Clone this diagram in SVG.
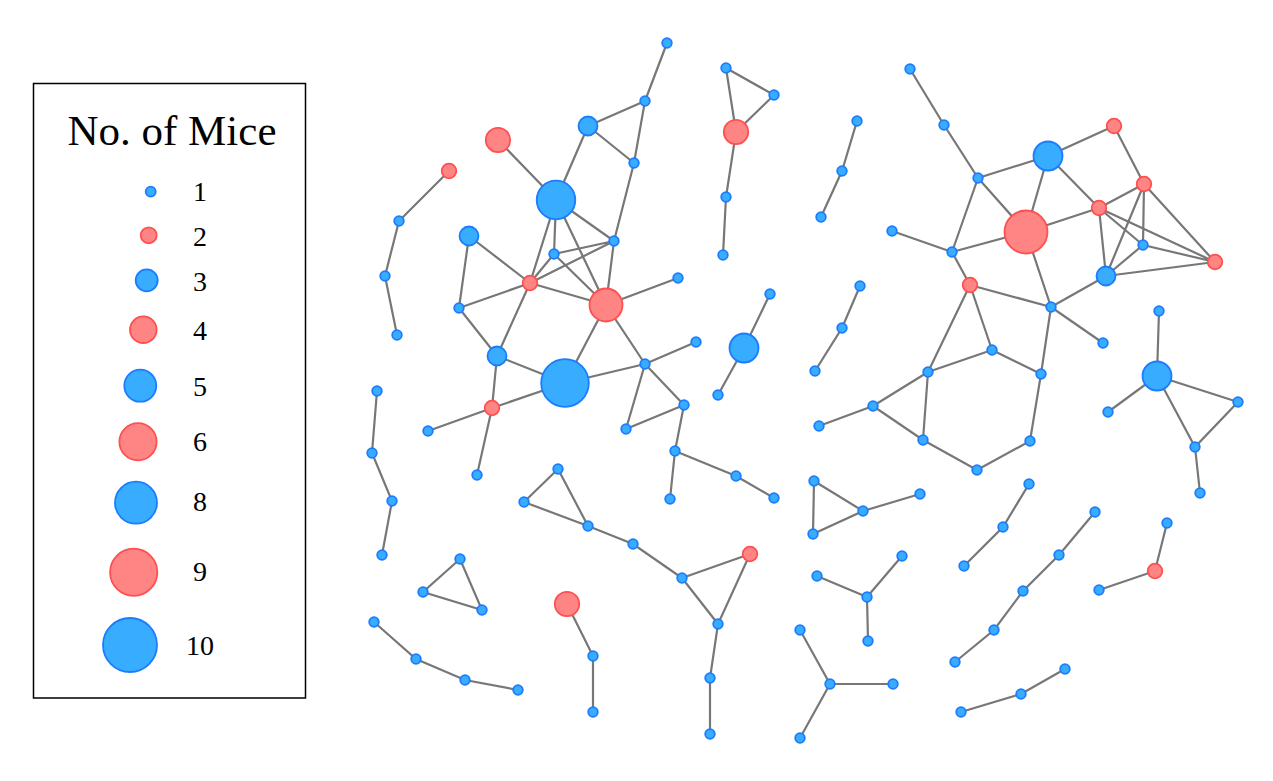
<svg xmlns="http://www.w3.org/2000/svg" width="1273" height="781" viewBox="0 0 1273 781">
<style>
.e{stroke:#777;stroke-width:2.2;fill:none}
.b{fill:#38acff;stroke:#1a7dff;stroke-width:1.8}
.r{fill:#ff8585;stroke:#ff4f4f;stroke-width:1.8}
.t{font-family:"Liberation Serif","Times New Roman",serif;fill:#000}
.lab{font-size:28px;text-anchor:middle}
</style>
<rect width="1273" height="781" fill="#fff"/>
<g id="legend">
<rect x="33.5" y="83.5" width="272" height="614.5" fill="#fff" stroke="#000" stroke-width="1.5"/>
<text class="t" x="172" y="145" font-size="43" text-anchor="middle">No. of Mice</text>
<circle class="b" cx="150.7" cy="191.7" r="5"/><text class="t lab" x="200" y="200.7">1</text>
<circle class="r" cx="148.7" cy="235.3" r="8"/><text class="t lab" x="200" y="245.7">2</text>
<circle class="b" cx="146.7" cy="280.3" r="11"/><text class="t lab" x="200" y="290.7">3</text>
<circle class="r" cx="143.3" cy="329.7" r="13.3"/><text class="t lab" x="200" y="340">4</text>
<circle class="b" cx="140.3" cy="385.7" r="16"/><text class="t lab" x="200" y="395.5">5</text>
<circle class="r" cx="138" cy="441.7" r="18.6"/><text class="t lab" x="200" y="450.7">6</text>
<circle class="b" cx="136" cy="502.7" r="21"/><text class="t lab" x="200" y="511">8</text>
<circle class="r" cx="133.7" cy="572.3" r="23.6"/><text class="t lab" x="200" y="581">9</text>
<circle class="b" cx="130" cy="645" r="27"/><text class="t lab" x="200" y="655">10</text>
</g>
<g id="edges" class="e">
<path d="M667,43L645,101M645,101L588,126M645,101L634,163M588,126L634,163M588,126L556,200M634,163L614,241M498,140L556,200M556,200L614,241M556,200L554,254M556,200L530,283M556,200L606,305M614,241L554,254M614,241L530,283M614,241L606,305M554,254L530,283M554,254L606,305M469,236L530,283M469,236L459,308M530,283L459,308M530,283L606,305M530,283L497,356M459,308L497,356M606,305L678,278M606,305L565,383M606,305L645,364M497,356L565,383M497,356L492,408M492,408L565,383M492,408L428,431M492,408L477,475M645,364L565,383M645,364L696,342M645,364L684,405M645,364L626,429M626,429L684,405M684,405L675,451M675,451L736,476M736,476L774,498M675,451L670,499"/>
<path d="M449,171L399,221L385,276L397,335M377,391L372,453L392,501L382,555"/>
<path d="M726,68L774,95M726,68L736,132M774,95L736,132M736,132L726,197L723,255"/>
<path d="M857,121L842,171L821,217M770,294L744,348L718,395M860,286L842,328L815,371"/>
<path d="M910,69L944,125L978,178M978,178L1048,156M978,178L1026,232M978,178L952,252M1048,156L1114,126M1048,156L1026,232M1048,156L1099,208M1114,126L1144,184M1144,184L1099,208M1144,184L1143,245M1144,184L1215,262M1144,184L1106,276M1099,208L1026,232M1099,208L1106,276M1099,208L1143,245M1099,208L1215,262M1143,245L1106,276M1143,245L1215,262M1106,276L1215,262M892,231L952,252M952,252L1026,232M952,252L970,285M1026,232L1051,307M1106,276L1051,307M970,285L1051,307M970,285L992,350M970,285L928,372M1051,307L1103,343M1051,307L1041,374M992,350L1041,374M992,350L928,372M1041,374L1030,441L977,470L923,440M928,372L873,406M928,372L923,440M873,406L819,426M873,406L923,440"/>
<path d="M1159,311L1157,376M1157,376L1108,412M1157,376L1238,402M1157,376L1195,447M1238,402L1195,447L1200,493"/>
<path d="M558,469L524,502M558,469L588,526M524,502L588,526L633,544L682,578M682,578L750,554M682,578L718,624M750,554L718,624L710,678L710,734"/>
<path d="M460,559L423,592L482,610Z"/>
<path d="M567,604L593,656L593,712M374,622L416,659L465,680L518,690"/>
<path d="M814,481L813,534L863,511ZM863,511L920,494M817,576L867,597M867,597L902,556M867,597L868,641M800,630L830,684M830,684L893,684M830,684L800,738"/>
<path d="M1029,484L1003,527L964,566M1095,512L1059,555L1023,591L994,630L955,662M1167,523L1155,571L1099,590M1065,669L1021,694L961,712"/>
</g>
<g id="n-a1"><circle class="b" cx="667" cy="43" r="4.8"/></g>
<g id="n-a2"><circle class="b" cx="645" cy="101" r="4.8"/></g>
<g id="n-a3"><circle class="b" cx="588" cy="126" r="9.5"/></g>
<g id="n-a4"><circle class="b" cx="634" cy="163" r="4.8"/></g>
<g id="n-a5"><circle class="r" cx="498" cy="140" r="12.2"/></g>
<g id="n-a6"><circle class="b" cx="556" cy="200" r="19.3"/></g>
<g id="n-a7"><circle class="b" cx="614" cy="241" r="4.8"/></g>
<g id="n-a8"><circle class="b" cx="554" cy="254" r="4.8"/></g>
<g id="n-a9"><circle class="b" cx="469" cy="236" r="9.5"/></g>
<g id="n-a10"><circle class="r" cx="530" cy="283" r="7.3"/></g>
<g id="n-a11"><circle class="b" cx="459" cy="308" r="4.8"/></g>
<g id="n-a12"><circle class="r" cx="606" cy="305" r="16.5"/></g>
<g id="n-a13"><circle class="b" cx="678" cy="278" r="4.8"/></g>
<g id="n-a14"><circle class="b" cx="497" cy="356" r="9.5"/></g>
<g id="n-a15"><circle class="b" cx="565" cy="383" r="23.8"/></g>
<g id="n-a16"><circle class="b" cx="645" cy="364" r="4.8"/></g>
<g id="n-a17"><circle class="b" cx="696" cy="342" r="4.8"/></g>
<g id="n-a18"><circle class="r" cx="492" cy="408" r="7.3"/></g>
<g id="n-a19"><circle class="b" cx="428" cy="431" r="4.8"/></g>
<g id="n-a20"><circle class="b" cx="477" cy="475" r="4.8"/></g>
<g id="n-a21"><circle class="b" cx="626" cy="429" r="4.8"/></g>
<g id="n-a22"><circle class="b" cx="684" cy="405" r="4.8"/></g>
<g id="n-a23"><circle class="b" cx="675" cy="451" r="4.8"/></g>
<g id="n-a24"><circle class="b" cx="736" cy="476" r="4.8"/></g>
<g id="n-a25"><circle class="b" cx="774" cy="498" r="4.8"/></g>
<g id="n-a26"><circle class="b" cx="670" cy="499" r="4.8"/></g>
<g id="n-b1"><circle class="r" cx="449" cy="171" r="7.3"/></g>
<g id="n-b2"><circle class="b" cx="399" cy="221" r="4.8"/></g>
<g id="n-b3"><circle class="b" cx="385" cy="276" r="4.8"/></g>
<g id="n-b4"><circle class="b" cx="397" cy="335" r="4.8"/></g>
<g id="n-c1"><circle class="b" cx="377" cy="391" r="4.8"/></g>
<g id="n-c2"><circle class="b" cx="372" cy="453" r="4.8"/></g>
<g id="n-c3"><circle class="b" cx="392" cy="501" r="4.8"/></g>
<g id="n-c4"><circle class="b" cx="382" cy="555" r="4.8"/></g>
<g id="n-d1"><circle class="b" cx="726" cy="68" r="4.8"/></g>
<g id="n-d2"><circle class="b" cx="774" cy="95" r="4.8"/></g>
<g id="n-d3"><circle class="r" cx="736" cy="132" r="12.2"/></g>
<g id="n-d4"><circle class="b" cx="726" cy="197" r="4.8"/></g>
<g id="n-d5"><circle class="b" cx="723" cy="255" r="4.8"/></g>
<g id="n-e1"><circle class="b" cx="857" cy="121" r="4.8"/></g>
<g id="n-e2"><circle class="b" cx="842" cy="171" r="4.8"/></g>
<g id="n-e3"><circle class="b" cx="821" cy="217" r="4.8"/></g>
<g id="n-f1"><circle class="b" cx="770" cy="294" r="4.8"/></g>
<g id="n-f2"><circle class="b" cx="744" cy="348" r="14.5"/></g>
<g id="n-f3"><circle class="b" cx="718" cy="395" r="4.8"/></g>
<g id="n-g1"><circle class="b" cx="860" cy="286" r="4.8"/></g>
<g id="n-g2"><circle class="b" cx="842" cy="328" r="4.8"/></g>
<g id="n-g3"><circle class="b" cx="815" cy="371" r="4.8"/></g>
<g id="n-h1"><circle class="b" cx="910" cy="69" r="4.8"/></g>
<g id="n-h2"><circle class="b" cx="944" cy="125" r="4.8"/></g>
<g id="n-h3"><circle class="b" cx="978" cy="178" r="4.8"/></g>
<g id="n-h4"><circle class="b" cx="1048" cy="156" r="14.5"/></g>
<g id="n-h5"><circle class="r" cx="1114" cy="126" r="7.3"/></g>
<g id="n-h6"><circle class="r" cx="1144" cy="184" r="7.3"/></g>
<g id="n-h7"><circle class="r" cx="1099" cy="208" r="7.3"/></g>
<g id="n-h8"><circle class="r" cx="1026" cy="232" r="21.5"/></g>
<g id="n-h9"><circle class="b" cx="892" cy="231" r="4.8"/></g>
<g id="n-h10"><circle class="b" cx="952" cy="252" r="4.8"/></g>
<g id="n-h11"><circle class="b" cx="1143" cy="245" r="4.8"/></g>
<g id="n-h12"><circle class="r" cx="1215" cy="262" r="7.3"/></g>
<g id="n-h13"><circle class="b" cx="1106" cy="276" r="9.5"/></g>
<g id="n-h14"><circle class="r" cx="970" cy="285" r="7.3"/></g>
<g id="n-h15"><circle class="b" cx="1051" cy="307" r="4.8"/></g>
<g id="n-h16"><circle class="b" cx="1103" cy="343" r="4.8"/></g>
<g id="n-h17"><circle class="b" cx="992" cy="350" r="4.8"/></g>
<g id="n-h18"><circle class="b" cx="1041" cy="374" r="4.8"/></g>
<g id="n-h19"><circle class="b" cx="928" cy="372" r="4.8"/></g>
<g id="n-h20"><circle class="b" cx="873" cy="406" r="4.8"/></g>
<g id="n-h21"><circle class="b" cx="819" cy="426" r="4.8"/></g>
<g id="n-h22"><circle class="b" cx="923" cy="440" r="4.8"/></g>
<g id="n-h23"><circle class="b" cx="1030" cy="441" r="4.8"/></g>
<g id="n-h24"><circle class="b" cx="977" cy="470" r="4.8"/></g>
<g id="n-i1"><circle class="b" cx="1159" cy="311" r="4.8"/></g>
<g id="n-i2"><circle class="b" cx="1157" cy="376" r="14.5"/></g>
<g id="n-i3"><circle class="b" cx="1108" cy="412" r="4.8"/></g>
<g id="n-i4"><circle class="b" cx="1238" cy="402" r="4.8"/></g>
<g id="n-i5"><circle class="b" cx="1195" cy="447" r="4.8"/></g>
<g id="n-i6"><circle class="b" cx="1200" cy="493" r="4.8"/></g>
<g id="n-j1"><circle class="b" cx="558" cy="469" r="4.8"/></g>
<g id="n-j2"><circle class="b" cx="524" cy="502" r="4.8"/></g>
<g id="n-j3"><circle class="b" cx="588" cy="526" r="4.8"/></g>
<g id="n-j4"><circle class="b" cx="633" cy="544" r="4.8"/></g>
<g id="n-j5"><circle class="b" cx="682" cy="578" r="4.8"/></g>
<g id="n-j6"><circle class="r" cx="750" cy="554" r="7.3"/></g>
<g id="n-j7"><circle class="b" cx="718" cy="624" r="4.8"/></g>
<g id="n-j8"><circle class="b" cx="710" cy="678" r="4.8"/></g>
<g id="n-j9"><circle class="b" cx="710" cy="734" r="4.8"/></g>
<g id="n-k1"><circle class="b" cx="460" cy="559" r="4.8"/></g>
<g id="n-k2"><circle class="b" cx="423" cy="592" r="4.8"/></g>
<g id="n-k3"><circle class="b" cx="482" cy="610" r="4.8"/></g>
<g id="n-l1"><circle class="r" cx="567" cy="604" r="12.2"/></g>
<g id="n-l2"><circle class="b" cx="593" cy="656" r="4.8"/></g>
<g id="n-l3"><circle class="b" cx="593" cy="712" r="4.8"/></g>
<g id="n-m1"><circle class="b" cx="374" cy="622" r="4.8"/></g>
<g id="n-m2"><circle class="b" cx="416" cy="659" r="4.8"/></g>
<g id="n-m3"><circle class="b" cx="465" cy="680" r="4.8"/></g>
<g id="n-m4"><circle class="b" cx="518" cy="690" r="4.8"/></g>
<g id="n-n1"><circle class="b" cx="814" cy="481" r="4.8"/></g>
<g id="n-n2"><circle class="b" cx="813" cy="534" r="4.8"/></g>
<g id="n-n3"><circle class="b" cx="863" cy="511" r="4.8"/></g>
<g id="n-n4"><circle class="b" cx="920" cy="494" r="4.8"/></g>
<g id="n-o1"><circle class="b" cx="817" cy="576" r="4.8"/></g>
<g id="n-o2"><circle class="b" cx="867" cy="597" r="4.8"/></g>
<g id="n-o3"><circle class="b" cx="902" cy="556" r="4.8"/></g>
<g id="n-o4"><circle class="b" cx="868" cy="641" r="4.8"/></g>
<g id="n-p1"><circle class="b" cx="800" cy="630" r="4.8"/></g>
<g id="n-p2"><circle class="b" cx="830" cy="684" r="4.8"/></g>
<g id="n-p3"><circle class="b" cx="893" cy="684" r="4.8"/></g>
<g id="n-p4"><circle class="b" cx="800" cy="738" r="4.8"/></g>
<g id="n-q1"><circle class="b" cx="1029" cy="484" r="4.8"/></g>
<g id="n-q2"><circle class="b" cx="1003" cy="527" r="4.8"/></g>
<g id="n-q3"><circle class="b" cx="964" cy="566" r="4.8"/></g>
<g id="n-r1"><circle class="b" cx="1095" cy="512" r="4.8"/></g>
<g id="n-r2"><circle class="b" cx="1059" cy="555" r="4.8"/></g>
<g id="n-r3"><circle class="b" cx="1023" cy="591" r="4.8"/></g>
<g id="n-r4"><circle class="b" cx="994" cy="630" r="4.8"/></g>
<g id="n-r5"><circle class="b" cx="955" cy="662" r="4.8"/></g>
<g id="n-s1"><circle class="b" cx="1167" cy="523" r="4.8"/></g>
<g id="n-s2"><circle class="r" cx="1155" cy="571" r="7.3"/></g>
<g id="n-s3"><circle class="b" cx="1099" cy="590" r="4.8"/></g>
<g id="n-t1"><circle class="b" cx="1065" cy="669" r="4.8"/></g>
<g id="n-t2"><circle class="b" cx="1021" cy="694" r="4.8"/></g>
<g id="n-t3"><circle class="b" cx="961" cy="712" r="4.8"/></g>
</svg>
